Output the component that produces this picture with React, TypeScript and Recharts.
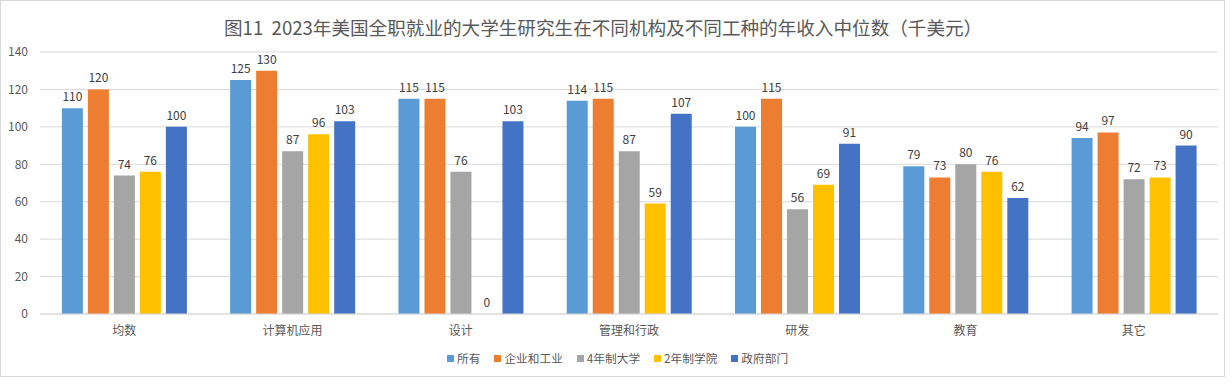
import { BarChart, Bar, XAxis, YAxis, CartesianGrid, LabelList } from 'recharts';

// 2023 US full-time employed graduates, median annual income (k USD)
const categories = ['均数', '计算机应用', '设计', '管理和行政', '研发', '教育', '其它'];
const allGrads = [110, 125, 115, 114, 100, 79, 94];
const industry = [120, 130, 115, 115, 115, 73, 97];
const fourYear = [74, 87, 76, 87, 56, 80, 72];
const twoYear = [76, 96, 0, 59, 69, 76, 73];
const government = [100, 103, 103, 107, 91, 62, 90];
const yTicks = [0, 20, 40, 60, 80, 100, 120, 140];

const SERIES = [
  { key: 'all', name: '所有', color: '#5B9BD5' },
  { key: 'industry', name: '企业和工业', color: '#ED7D31' },
  { key: 'fourYear', name: '4年制大学', color: '#A5A5A5' },
  { key: 'twoYear', name: '2年制学院', color: '#FFC000' },
  { key: 'gov', name: '政府部门', color: '#4472C4' },
];

const data = categories.map((name, i) => ({
  name,
  all: allGrads[i],
  industry: industry[i],
  fourYear: fourYear[i],
  twoYear: twoYear[i],
  gov: government[i],
}));

const FONT = '"Noto Sans CJK SC", "Noto Sans", sans-serif';

// draws the value above each bar, also for zero-height bars
const ValueLabel = (props: any) => {
  const { x, y, width, value } = props;
  if (value == null) return null;
  return (
    <text
      x={Number(x) + Number(width) / 2}
      y={Number(y) - 7}
      textAnchor="middle"
      fontSize={12}
      fill="#404040"
      fontFamily={FONT}
    >
      {value}
    </text>
  );
};

export default function App() {
  return (
    <div
      style={{
        position: 'absolute',
        top: 0,
        left: 0,
        width: 1232,
        height: 384,
        background: '#fff',
        fontFamily: FONT,
      }}
    >
      <div
        style={{
          position: 'absolute',
          top: 0,
          left: 0,
          width: 1225,
          height: 377,
          border: '1px solid #d9d9d9',
          boxSizing: 'border-box',
        }}
      />
      <div
        style={{
          position: 'absolute',
          top: 15,
          left: 224,
          fontSize: 18.6,
          lineHeight: '24px',
          color: '#595959',
          whiteSpace: 'pre',
        }}
      >
        {'图11  2023年美国全职就业的大学生研究生在不同机构及不同工种的年收入中位数（千美元）'}
      </div>
      <div style={{ position: 'absolute', top: 0, left: 0 }}>
        <BarChart
          width={1226}
          height={378}
          data={data}
          margin={{ top: 52, right: 8, left: 0, bottom: 34 }}
          barCategoryGap="13%"
          barGap={5}
        >
          <CartesianGrid vertical={false} stroke="#d9d9d9" />
          <XAxis
            dataKey="name"
            height={30}
            tickLine={false}
            axisLine={{ stroke: '#d9d9d9' }}
            tickSize={0}
            tickMargin={12}
            tick={{ fontSize: 12, fill: '#595959', fontFamily: FONT }}
          />
          <YAxis
            width={40}
            domain={[0, 140]}
            ticks={yTicks}
            axisLine={false}
            tickLine={false}
            tickSize={0}
            tickMargin={12}
            tick={{ fontSize: 12, fill: '#595959', fontFamily: FONT }}
          />
          {SERIES.map((s) => (
            <Bar
              key={s.key}
              dataKey={s.key}
              name={s.name}
              fill={s.color}
              minPointSize={0.01}
              isAnimationActive={false}
            >
              <LabelList dataKey={s.key} content={ValueLabel} />
            </Bar>
          ))}
        </BarChart>
      </div>
      <div
        style={{
          position: 'absolute',
          top: 349,
          left: 447,
          display: 'flex',
          gap: 14,
          fontSize: 11.7,
          lineHeight: '18px',
          color: '#595959',
        }}
      >
        {SERIES.map((s) => (
          <div key={s.key} style={{ display: 'flex', alignItems: 'center', gap: 3 }}>
            <span style={{ width: 7, height: 7, background: s.color, display: 'inline-block' }} />
            <span>{s.name}</span>
          </div>
        ))}
      </div>
    </div>
  );
}
